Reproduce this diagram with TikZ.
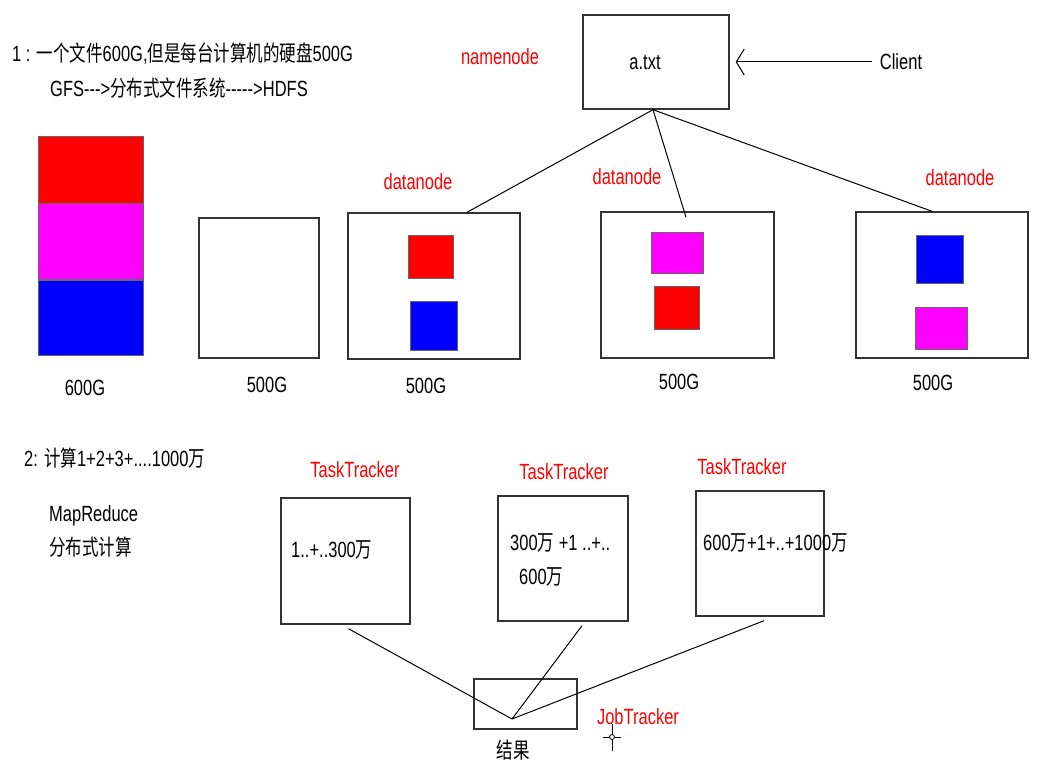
\documentclass[tikz,border=0pt]{standalone}
\usepackage{fontspec}
\setmainfont{Liberation Sans}[FakeStretch=0.75,Ligatures=TeXOff]
\newfontfamily\cjk{Noto Sans CJK SC}[FakeStretch=0.75]
\usetikzlibrary{arrows.meta,positioning}
\definecolor{pmag}{RGB}{255,0,255}
\definecolor{pred}{RGB}{255,0,0}
\definecolor{pblue}{RGB}{0,0,255}

\begin{document}
\begin{tikzpicture}
        [
        x=1pt, y=-1pt,
        every node/.style={font=\fontsize{22}{26}\selectfont, inner sep=0pt},
        box/.style={draw=black!80, line width=1.4pt, fill=white},
        blk/.style={draw=black!60, line width=0.6pt},
        lbl/.style={text=pred},
        edge/.style={line width=1pt}
        ]
    \useasboundingbox[fill=white] (0,0) rectangle (1044,767);

    % part 1: HDFS
    \node[anchor=west] (q1) at (12,54) {1 : {\cjk 一个文件}600G,{\cjk 但是每台计算机的硬盘}500G};
    \node[anchor=west] (q1b) at (50,88) {GFS--->{\cjk 分布式文件系统}----->HDFS};

    \node[lbl] (nnlbl) at (500,57) {namenode};
    \node[box, minimum width=146pt, minimum height=94pt] (nn) at (656,62) {};
    \node (file) at (645,62) {a.txt};
    \node (client) at (901,62) {Client};
    \draw[edge, -{Straight Barb[length=8pt,width=26pt]}, shorten <=8pt, shorten >=6pt] (client) -- (nn);

    \node[blk, fill=pred, minimum width=105pt, minimum height=67pt] (p1) at (90.5,169.5) {};
    \node[blk, fill=pmag, minimum width=105pt, minimum height=76pt, below=0pt of p1] (p2) {};
    \node[blk, fill=pblue, minimum width=105pt, minimum height=75pt, below=0pt of p2] (p3) {};
    \node (s600) at (85,388) {600G};

    \node[box, minimum width=120pt, minimum height=140pt] (hd) at (259,288) {};
    \node (s500a) at (267,385) {500G};

    \node[box, minimum width=172pt, minimum height=146pt] (dn1) at (434,286) {};
    \node[blk, fill=pred, minimum width=45pt, minimum height=43pt] (dn1a) at (430.5,256.5) {};
    \node[blk, fill=pblue, minimum width=47pt, minimum height=49pt] (dn1b) at (433.5,325.5) {};
    \node[lbl] (dn1lbl) at (418,182) {datanode};
    \node (s500b) at (426,386) {500G};

    \node[box, minimum width=173pt, minimum height=146pt] (dn2) at (687.5,285) {};
    \node[blk, fill=pmag, minimum width=52pt, minimum height=41pt] (dn2a) at (677,252.5) {};
    \node[blk, fill=pred, minimum width=45pt, minimum height=43pt] (dn2b) at (676.5,307.5) {};
    \node[lbl] (dn2lbl) at (627,177) {datanode};
    \node (s500c) at (679,382) {500G};

    \node[box, minimum width=172pt, minimum height=146pt] (dn3) at (942,285) {};
    \node[blk, fill=pblue, minimum width=47pt, minimum height=48pt] (dn3a) at (939.5,259) {};
    \node[blk, fill=pmag, minimum width=52pt, minimum height=42pt] (dn3b) at (941,328) {};
    \node[lbl] (dn3lbl) at (960,178) {datanode};
    \node (s500d) at (933,383) {500G};

    \draw[edge] ([xshift=-3pt]nn.south) -- ([xshift=33pt]dn1.north);
    \draw[edge] ([xshift=-3pt]nn.south) -- ([shift={(-1.5pt,-6pt)}]dn2.north);
    \draw[edge] ([xshift=-3pt]nn.south) -- ([xshift=-10pt]dn3.north);

    % part 2: MapReduce
    \node[anchor=west] (q2) at (24,458) {2: {\cjk 计算}1+2+3+....1000{\cjk 万}};
    \node[anchor=west] (mr) at (49,516) {MapReduce};
    \node[anchor=west] (mr2) at (49,547) {\cjk 分布式计算};

    \node[box, minimum width=129pt, minimum height=126pt] (tt1) at (345.5,561) {};
    \node[lbl] (tt1lbl) at (355,470) {TaskTracker};
    \node[anchor=west] (w1) at (291,550) {1..+..300{\cjk 万}};

    \node[box, minimum width=130pt, minimum height=125pt] (tt2) at (563,558.5) {};
    \node[lbl] (tt2lbl) at (564,472) {TaskTracker};
    \node[anchor=west] (w2a) at (510,543) {300{\cjk 万} +1 ..+..};
    \node[anchor=west] (w2b) at (519,577) {600{\cjk 万}};

    \node[box, minimum width=128pt, minimum height=125pt] (tt3) at (760,553.5) {};
    \node[lbl] (tt3lbl) at (742,467) {TaskTracker};
    \node[anchor=west] (w3) at (703,543) {600{\cjk 万}+1+..+1000{\cjk 万}};

    \node[box, minimum width=103pt, minimum height=50pt] (res) at (525.5,704) {};
    \coordinate (sum) at (512,719);
    \node (reslbl) at (513,750) {\cjk 结果};
    \node[lbl] (jt) at (638,717) {JobTracker};

    \draw[edge] ([shift={(3pt,-4pt)}]tt1.south) -- (sum);
    \draw[edge] ([shift={(19pt,-4pt)}]tt2.south) -- (sum);
    \draw[edge] ([shift={(4pt,-4pt)}]tt3.south) -- (sum);

    % mouse cursor
    \coordinate (cur) at (612,737);
    \draw[line width=0.8pt] ([xshift=-9pt]cur) -- ([xshift=9pt]cur);
    \draw[line width=0.8pt] ([yshift=13pt]cur) -- ([yshift=-14pt]cur);
    \draw[line width=0.8pt, fill=white] (cur) circle (2.5pt);
    \end{tikzpicture}
\end{document}
